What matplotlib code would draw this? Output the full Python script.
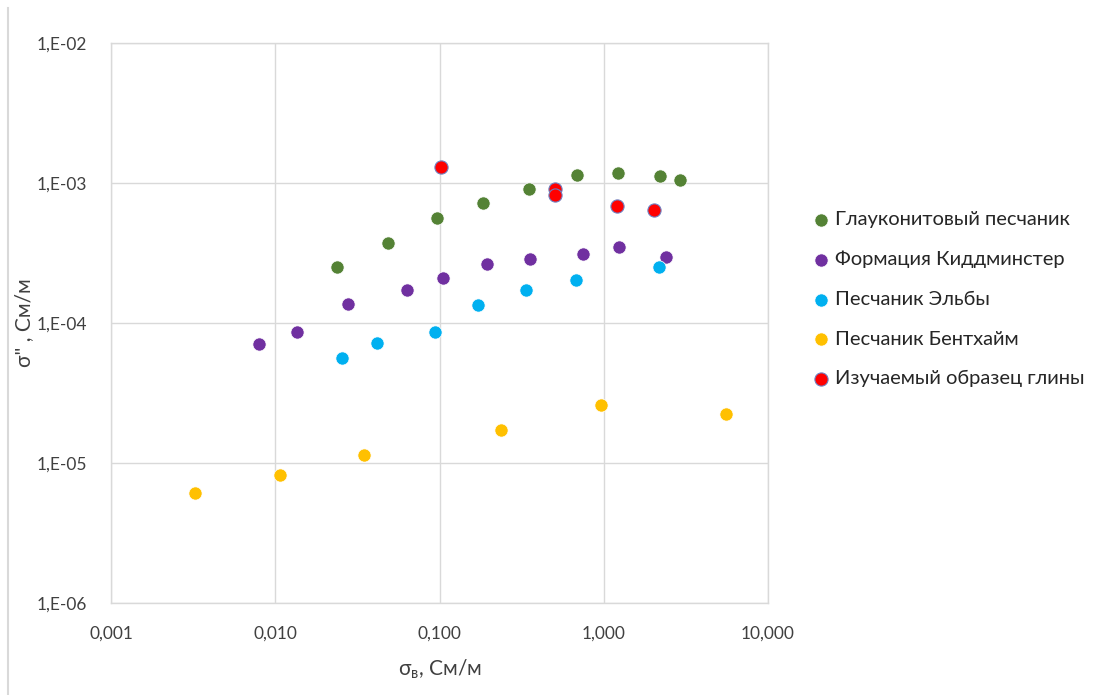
import matplotlib
matplotlib.use("Agg")
import matplotlib.pyplot as plt
from matplotlib.lines import Line2D
from matplotlib.ticker import FixedLocator, FixedFormatter, NullLocator

# --- data ---
glauc_x = [0.0238, 0.0486, 0.0967, 0.184, 0.351, 0.689, 1.22, 2.20, 2.92]
glauc_y = [2.50e-4, 3.71e-4, 5.60e-4, 7.16e-4, 9.0e-4, 1.15e-3, 1.17e-3, 1.12e-3, 1.05e-3]

kidd_x = [0.00797, 0.0136, 0.0278, 0.0632, 0.105, 0.195, 0.355, 0.746, 1.24, 2.38]
kidd_y = [7.05e-5, 8.58e-5, 1.36e-4, 1.71e-4, 2.08e-4, 2.63e-4, 2.88e-4, 3.11e-4, 3.47e-4, 2.96e-4]

elbe_x = [0.0255, 0.0417, 0.094, 0.172, 0.338, 0.673, 2.17]
elbe_y = [5.6e-5, 7.16e-5, 8.58e-5, 1.35e-4, 1.71e-4, 2.02e-4, 2.51e-4]

bent_x = [0.00325, 0.0107, 0.0347, 0.237, 0.964, 5.56]
bent_y = [6.08e-6, 8.17e-6, 1.14e-5, 1.71e-5, 2.58e-5, 2.23e-5]

clay_x = [0.102, 0.506, 0.506, 1.21, 2.02]
clay_y = [1.31e-3, 9.06e-4, 8.26e-4, 6.85e-4, 6.41e-4]

series_names = [
    "Глауконитовый песчаник",
    "Формация Киддминстер",
    "Песчаник Эльбы",
    "Песчаник Бентхайм",
    "Изучаемый образец глины",
]
series_colors = ["#548235", "#7030A0", "#00B0F0", "#FFC000", "#FF0000"]

x_ticks = [0.001, 0.01, 0.1, 1, 10]
x_labels = ["0,001", "0,010", "0,100", "1,000", "10,000"]
y_ticks = [1e-6, 1e-5, 1e-4, 1e-3, 1e-2]
y_labels = ["1,E-06", "1,E-05", "1,E-04", "1,E-03", "1,E-02"]

plt.rcParams["font.family"] = ["Lato", "DejaVu Sans"]
plt.rcParams["mathtext.fontset"] = "custom"
plt.rcParams["mathtext.rm"] = "Lato"

W, H = 1114, 695
fig = plt.figure(figsize=(W / 100, H / 100), dpi=100)
ax = fig.add_axes([111 / W, 1 - 603 / H, (768 - 111) / W, (603 - 43) / H])

all_x = [glauc_x, kidd_x, elbe_x, bent_x, clay_x]
all_y = [glauc_y, kidd_y, elbe_y, bent_y, clay_y]
for xs, ys, name, col in zip(all_x, all_y, series_names, series_colors):
    if col == "#FF0000":
        ax.scatter(xs, ys, s=90, color=col, edgecolors="#6F7FC0", linewidths=0.8,
                   label=name, zorder=3)
    else:
        ax.scatter(xs, ys, s=90, color=col, edgecolors="white", linewidths=0.5,
                   label=name, zorder=3)

ax.set_xscale("log")
ax.set_yscale("log")
ax.set_xlim(0.001, 10)
ax.set_ylim(1e-6, 1e-2)
ax.xaxis.set_major_locator(FixedLocator(x_ticks))
ax.xaxis.set_major_formatter(FixedFormatter(x_labels))
ax.yaxis.set_major_locator(FixedLocator(y_ticks))
ax.yaxis.set_major_formatter(FixedFormatter(y_labels))
ax.xaxis.set_minor_locator(NullLocator())
ax.yaxis.set_minor_locator(NullLocator())

ax.grid(True, color="#D9D9D9", linewidth=1.0)
ax.set_axisbelow(True)
for sp in ax.spines.values():
    sp.set_color("#D9D9D9")
    sp.set_linewidth(1.0)
ax.tick_params(length=0, labelsize=12.5, colors="#404040")
ax.tick_params(axis="x", pad=16)
ax.tick_params(axis="y", pad=17)

ax.set_xlabel(r"σ$_{\mathregular{в}}$, См/м", fontsize=15, color="#404040", labelpad=12)
ax.set_ylabel('σ" , См/м', fontsize=15, color="#404040", labelpad=2)

leg = ax.legend(loc="upper left", bbox_to_anchor=(803 / W, 1 - 203 / H),
                bbox_transform=fig.transFigure, frameon=False, fontsize=14.5,
                labelspacing=1.12, handletextpad=0.2, handlelength=1.0,
                borderaxespad=0)
for t in leg.get_texts():
    t.set_color("#262626")

fig.add_artist(Line2D([7.5 / W, 7.5 / W], [1 - 694 / H, 1 - 8 / H],
                      color="#D9D9D9", linewidth=1.5))

fig.savefig("out.png", dpi=100)
